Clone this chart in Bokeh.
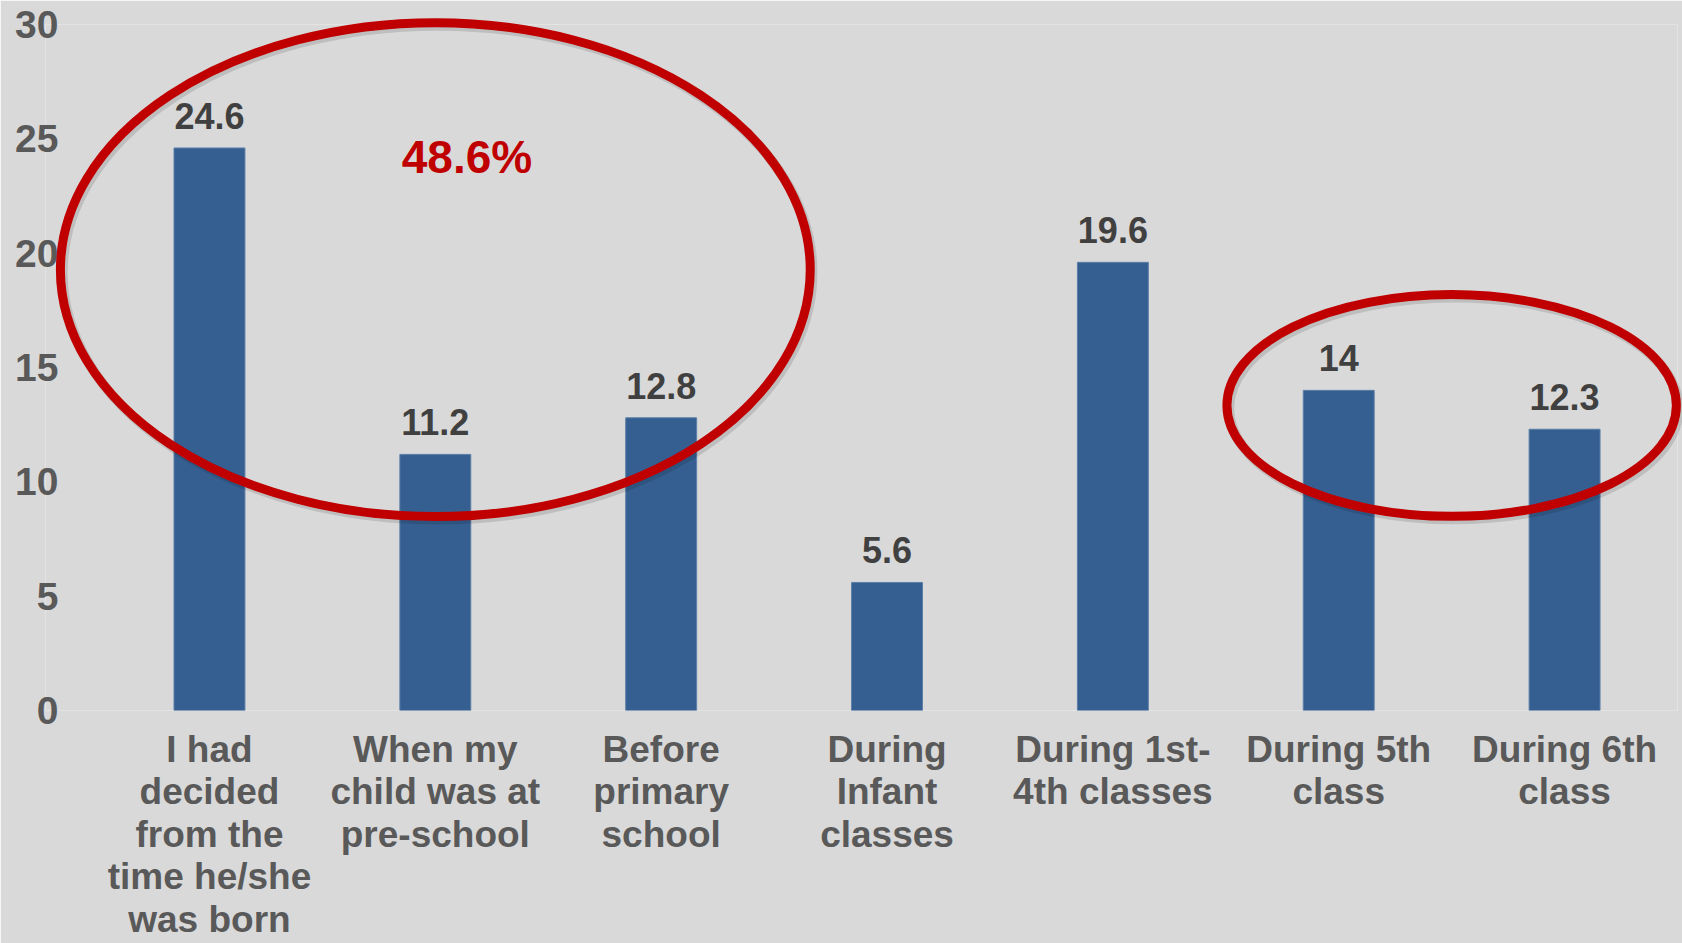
from bokeh.plotting import figure
from bokeh.models import Range1d, FixedTicker, ColumnDataSource
from bokeh.core.properties import value
from bokeh.embed import file_html
from bokeh.resources import INLINE

categories = [
    "I had\ndecided\nfrom the\ntime he/she\nwas born",
    "When my\nchild was at\npre-school",
    "Before\nprimary\nschool",
    "During\nInfant\nclasses",
    "During 1st-\n4th classes",
    "During 5th\nclass",
    "During 6th\nclass",
]
values = [24.6, 11.2, 12.8, 5.6, 19.6, 14, 12.3]
value_labels = ["24.6", "11.2", "12.8", "5.6", "19.6", "14", "12.3"]
y_ticks = [0, 5, 10, 15, 20, 25, 30]
highlight_total = round(sum(values[:3]), 1)  # 48.6

# category slots: category i is centred at i + 0.5
positions = [i + 0.5 for i in range(len(categories))]

FONT = "Liberation Sans"
BG = "#d9d9d9"
BAR = "#355f91"
RED = "#c00000"

p = figure(
    width=1682, height=943,
    x_range=Range1d(-0.226, 7.0),
    y_range=Range1d(0, 30),
    output_backend="svg", toolbar_location=None,
    min_border_left=45, min_border_right=5, min_border_top=24, min_border_bottom=233,
)
p.background_fill_color = BG
p.border_fill_color = BG
p.outline_line_color = None
p.xgrid.grid_line_color = None
p.ygrid.grid_line_color = None

src = ColumnDataSource(dict(x=positions, val=values, lab=value_labels))
p.vbar(x="x", top="val", bottom=0, width=0.314, source=src,
       fill_color=BAR, line_color="#5b7fa8", line_width=1)

p.text(x="x", y="val", text="lab", source=src,
       text_font=value(FONT), text_font_style="bold", text_font_size="36px",
       text_color="#404040", text_align="center", text_baseline="middle",
       y_offset=-32)

# annotation ellipses (soft shadow + red stroke)
ell_big = dict(x=positions[1], y=19.28, w=3.32, h=21.6)
ell_small = dict(x=(positions[5] + positions[6]) / 2, y=13.34, w=1.99, h=9.7)
for e in (ell_big, ell_small):
    p.ellipse(x=[e["x"] + 0.01], y=[e["y"] - 0.13], width=[e["w"]], height=[e["h"]],
              fill_color=None, line_color="#000000", line_alpha=0.12, line_width=10,
              level="overlay")
    p.ellipse(x=[e["x"]], y=[e["y"]], width=[e["w"]], height=[e["h"]],
              fill_color=None, line_color=RED, line_width=9, level="overlay")

p.text(x=[1.64], y=[24.2], text=[f"{highlight_total}%"],
       text_font=value(FONT), text_font_style="bold", text_font_size="46px",
       text_color=RED, text_align="center", text_baseline="middle")

p.yaxis.ticker = FixedTicker(ticks=y_ticks)
p.xaxis.ticker = FixedTicker(ticks=positions)
p.xaxis.major_label_overrides = {pos: cat for pos, cat in zip(positions, categories)}
for ax in (p.xaxis[0], p.yaxis[0]):
    ax.axis_line_color = None
    ax.major_tick_line_color = None
    ax.minor_tick_line_color = None
    ax.major_tick_out = 0
    ax.major_tick_in = 0
    ax.minor_tick_out = 0
    ax.minor_tick_in = 0
    ax.major_label_text_font = FONT
    ax.major_label_text_font_style = "bold"
    ax.major_label_text_color = "#595959"
p.yaxis.major_label_text_font_size = "39px"
p.yaxis.major_label_standoff = -13
p.xaxis.major_label_text_font_size = "37px"
p.xaxis.major_label_standoff = 18
p.xaxis.major_label_text_line_height = 1.04

open("out.html", "w").write(file_html(p, INLINE))
